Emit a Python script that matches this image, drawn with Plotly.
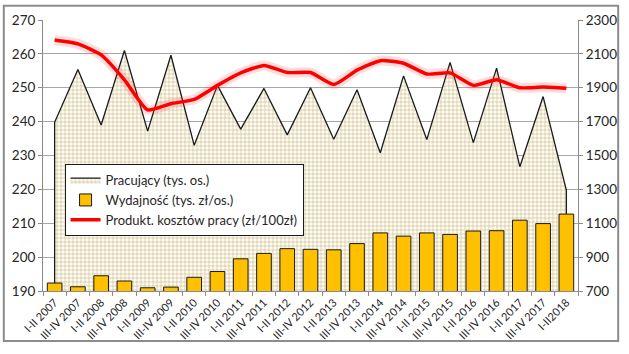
import plotly.graph_objects as go

categories = ["I-II 2007", "III-IV 2007", "I-II 2008", "III-IV 2008", "I-II 2009", "III-IV 2009",
              "I-II 2010", "III-IV 2010", "I-II 2011", "III-IV 2011", "I-II 2012", "III-IV 2012",
              "I-II 2013", "III-IV 2013", "I-II 2014", "III-IV 2014", "I-II 2015", "III-IV 2015",
              "I-II 2016", "III-IV 2016", "I-II 2017", "III-IV 2017", "I-II2018"]

pracujacy = [239.8, 255.4, 239.0, 261.0, 237.2, 259.6, 233.0, 250.7, 237.8, 249.8, 236.1, 250.0,
             234.8, 249.4, 230.8, 253.5, 234.7, 257.5, 233.8, 255.8, 226.7, 247.4, 219.7]

wydajnosc = [747, 725, 790, 759, 719, 723, 781, 815, 890, 922, 950, 946,
             943, 980, 1043, 1024, 1043, 1034, 1054, 1056, 1118, 1098, 1154]

produkt = [2182, 2159, 2094, 1947, 1769, 1806, 1831, 1914, 1988, 2032, 1990, 1990,
           1919, 2004, 2060, 2045, 1981, 1988, 1914, 1947, 1900, 1904, 1897]

left_range = [190, 270]
right_range = [700, 2300]

font_family = "Lato, 'Noto Sans', sans-serif"

fig = go.Figure()

# Area (closed polygon down to the axis minimum)
area_x = [categories[0]] + categories + [categories[-1]]
area_y = [left_range[0]] + pracujacy + [left_range[0]]
fig.add_trace(go.Scatter(
    x=area_x, y=area_y, mode="lines", fill="toself",
    name="Pracujący (tys. os.)",
    line=dict(color="#1a1a1a", width=1.3),
    fillcolor="#fffcef",
    fillpattern=dict(shape="+", size=4, solidity=0.3, fgcolor="#c9bf9b", bgcolor="#fffcef", fillmode="replace"),
    yaxis="y", hoverinfo="skip",
))

fig.add_trace(go.Bar(
    x=categories, y=wydajnosc, name="Wydajność (tys. zł/os.)",
    marker=dict(color="#ffc000", line=dict(color="#1a1a1a", width=1)),
    yaxis="y2",
))

# glow under the red line
fig.add_trace(go.Scatter(
    x=categories, y=produkt, mode="lines", showlegend=False,
    line=dict(color="rgba(255,60,60,0.18)", width=10, shape="spline", smoothing=0.5),
    yaxis="y2", hoverinfo="skip",
))
fig.add_trace(go.Scatter(
    x=categories, y=produkt, mode="lines", name="Produkt. kosztów pracy (zł/100zł)",
    line=dict(color="#ff0000", width=3.5, shape="spline", smoothing=0.5),
    yaxis="y2",
))

W, H = 629, 354
ml, mr, mt, mb = 41, 42, 16, 54
pw, ph = W - ml - mr, H - mt - mb

def px_to_paper_x(px):
    return (px - ml) / pw

def px_to_paper_y(py):
    return (H - mb - py) / ph

fig.update_layout(
    width=W, height=H,
    margin=dict(l=ml, r=mr, t=mt, b=mb),
    paper_bgcolor="white", plot_bgcolor="white",
    font=dict(family=font_family, color="#262626"),
    barmode="overlay",
    bargap=0.37,
    showlegend=True,
    legend=dict(
        x=px_to_paper_x(63), y=px_to_paper_y(167), xanchor="left", yanchor="top",
        bgcolor="white", bordercolor="#1a1a1a", borderwidth=1,
        font=dict(size=13, family=font_family, color="#262626"),
        tracegroupgap=0, itemwidth=30,
    ),
    xaxis=dict(
        type="category", categoryorder="array", categoryarray=categories,
        showgrid=False, showline=True, linecolor="#8c8c8c", linewidth=1,
        ticks="outside", tickson="boundaries", ticklen=4, tickcolor="#8c8c8c",
        tickangle=-45, tickfont=dict(size=11),
        range=[-0.5, len(categories) - 0.5],
    ),
    yaxis=dict(
        range=left_range, dtick=10, showgrid=True, gridcolor="#a6a6a6", gridwidth=1,
        showline=True, linecolor="#8c8c8c", ticks="outside", ticklen=4, tickcolor="#8c8c8c",
        tickfont=dict(size=13.5), zeroline=False,
    ),
    yaxis2=dict(
        range=right_range, tick0=700, dtick=200, overlaying="y", side="right", showgrid=False,
        showline=True, linecolor="#8c8c8c", ticks="outside", ticklen=4, tickcolor="#8c8c8c",
        tickfont=dict(size=13.5), zeroline=False,
    ),
    shapes=[dict(
        type="rect", xref="paper", yref="paper",
        x0=px_to_paper_x(1), x1=px_to_paper_x(628),
        y0=px_to_paper_y(352.5), y1=px_to_paper_y(1),
        line=dict(color="#8c8c8c", width=2), fillcolor="rgba(0,0,0,0)", layer="below",
    )],
)

fig.write_html("out.html")
